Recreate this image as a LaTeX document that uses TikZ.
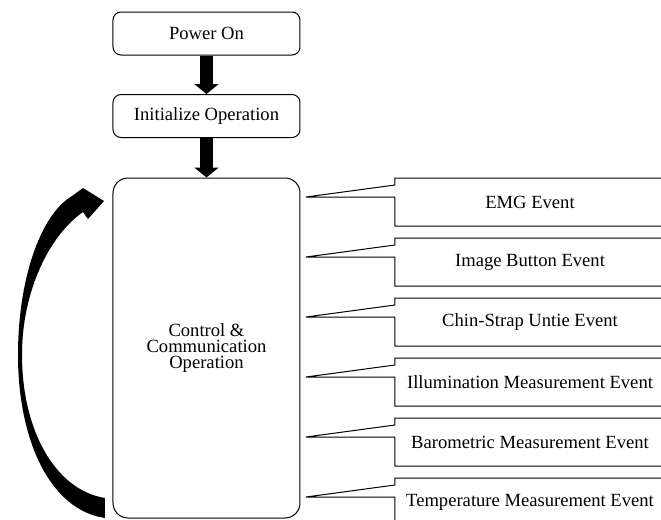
\documentclass[tikz,border=0pt]{standalone}
\usepackage{fontspec}
\setmainfont{Liberation Serif}
\usetikzlibrary{arrows.meta,calc}

\begin{document}
\begin{tikzpicture}[x=0.5pt,y=-0.5pt,line width=0.5pt,
   every node/.style={font=\fontsize{9.3}{8}\selectfont},
   stepbox/.style={draw,rounded corners=4pt,minimum width=93.5pt,minimum height=21.5pt},
   evbox/.style={minimum width=134.5pt,minimum height=23.5pt,inner sep=0pt,anchor=north west},
   blockarrow/.style={line width=6.5pt,-{Triangle[width=12pt,length=5pt]}}]
   \clip (0,0) rectangle (661,520);
   \node[stepbox] (power) at (206.5,33.5) {Power On};
   \node[stepbox] (init) at (206.5,116) {Initialize Operation};
   \node[stepbox,rounded corners=7.5pt,minimum height=170pt,align=center] (ctrl) at (206.5,348)
      {Control \&\\Communication\\Operation};
   \draw[blockarrow] (power) -- (init);
   \draw[blockarrow] (init) -- (ctrl);
   % event callouts
   \foreach \txt [count=\k from 0] in {EMG Event,Image Button Event,Chin-Strap Untie Event,
      Illumination Measurement Event,Barometric Measurement Event,Temperature Measurement Event}{
      \pgfmathsetmacro\evtop{178+60*\k}
      \node[evbox] (ev\k) at (395,\evtop) {\txt};
      \coordinate (tip\k) at (306,\evtop+19);
      \draw (ev\k.north east) -- (ev\k.north west) -- ++(0,7) -- (tip\k)
         -- ($(ev\k.north west)+(0,19)$) -- (ev\k.south west) -- (ev\k.south east);
   }
   % loop-back arrow
   \fill (105,518) .. controls (50,510) and (18,440) .. (18,355)
      .. controls (18,280) and (40,215) .. (72,196) -- (83,188) -- (104,201) -- (88,219) -- (83,212)
      .. controls (50,235) and (22,290) .. (22,355)
      .. controls (22,430) and (55,490) .. (105,498) -- cycle;
\end{tikzpicture}
\end{document}
